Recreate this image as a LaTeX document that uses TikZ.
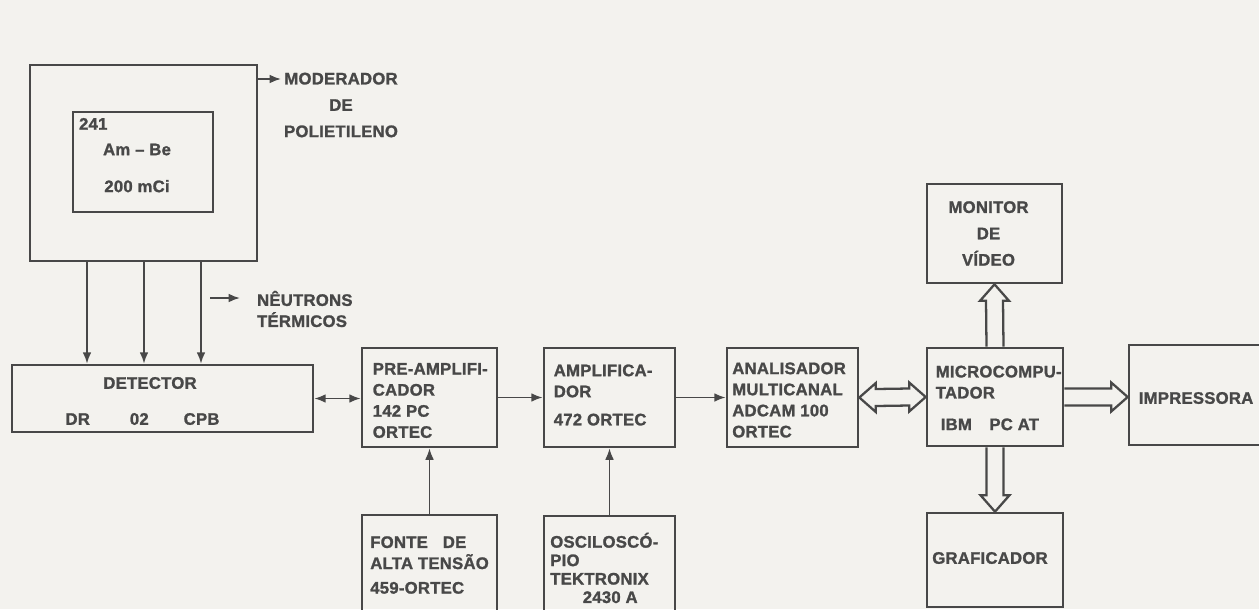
\documentclass[tikz,border=0pt]{standalone}
\usepackage{fontspec}
\usetikzlibrary{arrows.meta, positioning, calc}
\newfontfamily\dgfont{Liberation Sans}[LetterSpace=1.5, FakeBold=1.4]
\definecolor{ink}{RGB}{72,72,72}
\definecolor{paper}{RGB}{243,242,238}
\newcommand{\dgtext}{\dgfont\bfseries\fontsize{9.5pt}{12pt}\selectfont}
\newcommand{\fatS}{0.17}
\newcommand{\fatW}{0.29}
\newcommand{\fatH}{0.33}
\tikzset{
  box/.style={rectangle, draw=ink, line width=1.5pt},
  txt/.style={font=\dgtext, text=ink, inner sep=1pt, align=left},
  arrow/.style={-{Latex[length=6.5pt,width=5pt]}, line width=1pt, color=ink},
  biarrow/.style={{Latex[length=6.5pt,width=5pt]}-{Latex[length=6.5pt,width=5pt]},
    line width=1pt, color=ink},
  fat/.style={draw=ink, line width=1.3pt, line join=miter}
}

\begin{document}
\begin{tikzpicture}
  \useasboundingbox (0,0) rectangle (25.18,-12.18);
  \fill[paper] (0,0) rectangle (25.18,-12.18);
  \clip (0,0) rectangle (25.18,-12.18);

  % Source inside the moderator
  \node[box, minimum width=4.54cm, minimum height=3.92cm] (moder) at (2.87,-3.26) {};
  \node[box, minimum width=2.8cm, minimum height=2.0cm] (src) at (2.86,-3.24) {};
  \node[txt, anchor=north west, inner sep=4pt] (iso) at (src.north west) {241};
  \node[txt, align=center] (srctxt) at (2.74,-3.36) {Am – Be\\[9pt]200 mCi};

  % Moderator label
  \coordinate (modtip) at (5.62,-1.58);
  \node[txt, align=center] (modlbl) at (6.82,-2.1) {MODERADOR\\[3pt]DE\\[3pt]POLIETILENO};
  \draw[arrow] (moder.east |- modtip) -- (modtip);

  % Detector
  \node[box, minimum width=6.02cm, minimum height=1.34cm] (det) at (3.25,-7.97) {};
  \node[txt] (dettitle) at (3.0,-7.66) {DETECTOR};
  \node[txt] (detch) at (2.85,-8.38) {DR\hspace{0.8cm}02\hspace{0.7cm}CPB};

  % Thermal neutrons
  \foreach \dx [count=\i] in {-1.13,0.01,1.15} {
    \coordinate (n\i) at ($(moder.south)+(\dx,0)$);
    \draw[arrow] (n\i) -- (n\i |- det.north);
  }
  \coordinate (neutail) at (4.2,-5.96);
  \coordinate (neutip) at (4.8,-5.96);
  \draw[arrow] (neutail) -- (neutip);
  \node[txt, anchor=west] (neulbl) at (5.1,-6.18) {NÊUTRONS\\TÉRMICOS};

  % Electronics chain
  \node[box, minimum width=2.7cm, minimum height=1.98cm] (preamp) at (8.59,-7.95) {};
  \node[txt, anchor=west] (preamptxt) at ($(preamp.west)+(0.2,-0.06)$)
    {PRE-AMPLIFI-\\CADOR\\142 PC\\ORTEC};
  \node[box, minimum width=2.62cm, minimum height=1.98cm] (amp) at (12.19,-7.95) {};
  \node[txt, anchor=west] (amptxt) at ($(amp.west)+(0.18,0.05)$)
    {AMPLIFICA-\\DOR\\[4pt]472 ORTEC};
  \node[box, minimum width=2.62cm, minimum height=1.98cm] (ana) at (15.85,-7.95) {};
  \node[txt, anchor=west] (anatxt) at ($(ana.west)+(0.09,-0.05)$)
    {ANALISADOR\\MULTICANAL\\ADCAM 100\\ORTEC};
  \node[box, minimum width=2.72cm, minimum height=1.96cm] (micro) at (19.9,-7.94) {};
  \node[txt, anchor=west] (microtxt) at ($(micro.west)+(0.16,-0.02)$)
    {MICROCOMPU-\\TADOR\\[6pt]\hspace*{0.1cm}IBM\hspace{0.35cm}PC AT};
  \node[box, minimum width=2.7cm, minimum height=1.98cm] (monitor) at (19.89,-4.67) {};
  \node[txt, align=center] (monitortxt) at ($(monitor.center)+(-0.12,0)$)
    {MONITOR\\[3pt]DE\\[3pt]VÍDEO};
  \node[box, minimum width=2.72cm, minimum height=1.88cm] (graf) at (19.9,-11.2) {};
  \node[txt, anchor=west] (graftxt) at ($(graf.west)+(0.09,0.04)$) {GRAFICADOR};
  \node[box, minimum width=2.92cm, minimum height=2.0cm] (imp) at (24.04,-7.9) {};
  \node[txt, anchor=west] (imptxt) at ($(imp.west)+(0.18,-0.06)$) {IMPRESSORA};
  \node[box, minimum width=2.7cm, minimum height=2.1cm] (fonte) at (8.59,-11.35) {};
  \node[txt, anchor=west] (fontetxt) at ($(fonte.west)+(0.15,0.05)$)
    {FONTE\hspace{0.3cm}DE\\ALTA TENSÃO\\[2pt]459-ORTEC};
  \node[box, minimum width=2.62cm, minimum height=2.08cm] (osc) at (12.19,-11.36) {};
  \node[txt, anchor=west, font=\dgfont\bfseries\fontsize{9.5pt}{10.5pt}\selectfont]
    (osctxt) at ($(osc.west)+(0.11,0)$)
    {OSCILOSCÓ-\\PIO\\TEKTRONIX\\\hspace*{0.65cm}2430 A};

  % Signal connections
  \draw[biarrow] (det.east) -- (det.east -| preamp.west);
  \draw[arrow] (preamp.east) -- (amp.west);
  \draw[arrow] (amp.east) -- (ana.west);
  \draw[arrow] (fonte.north) -- (preamp.south);
  \draw[arrow] (osc.north) -- (amp.south);

  % Data buses
  \draw[fat] (ana.east) -- ($(ana.east)+(\fatH,\fatW)$) -- ($(ana.east)+(\fatH,\fatS)$)
    -- ($(micro.west)+(-\fatH,\fatS)$) -- ($(micro.west)+(-\fatH,\fatW)$) -- (micro.west)
    -- ($(micro.west)+(-\fatH,-\fatW)$) -- ($(micro.west)+(-\fatH,-\fatS)$)
    -- ($(ana.east)+(\fatH,-\fatS)$) -- ($(ana.east)+(\fatH,-\fatW)$) -- cycle;
  \draw[fat] ($(micro.north)+(-\fatS,0)$) -- ($(monitor.south)+(-\fatS,-\fatH)$)
    -- ($(monitor.south)+(-\fatW,-\fatH)$) -- (monitor.south)
    -- ($(monitor.south)+(\fatW,-\fatH)$) -- ($(monitor.south)+(\fatS,-\fatH)$)
    -- ($(micro.north)+(\fatS,0)$);
  \draw[fat] ($(micro.south)+(-\fatS,0)$) -- ($(graf.north)+(-\fatS,\fatH)$)
    -- ($(graf.north)+(-\fatW,\fatH)$) -- (graf.north)
    -- ($(graf.north)+(\fatW,\fatH)$) -- ($(graf.north)+(\fatS,\fatH)$)
    -- ($(micro.south)+(\fatS,0)$);
  \coordinate (imptip) at (micro.east -| imp.west);
  \draw[fat] ($(micro.east)+(0,\fatS)$) -- ($(imptip)+(-\fatH,\fatS)$)
    -- ($(imptip)+(-\fatH,\fatW)$) -- (imptip)
    -- ($(imptip)+(-\fatH,-\fatW)$) -- ($(imptip)+(-\fatH,-\fatS)$)
    -- ($(micro.east)+(0,-\fatS)$);
\end{tikzpicture}
\end{document}
